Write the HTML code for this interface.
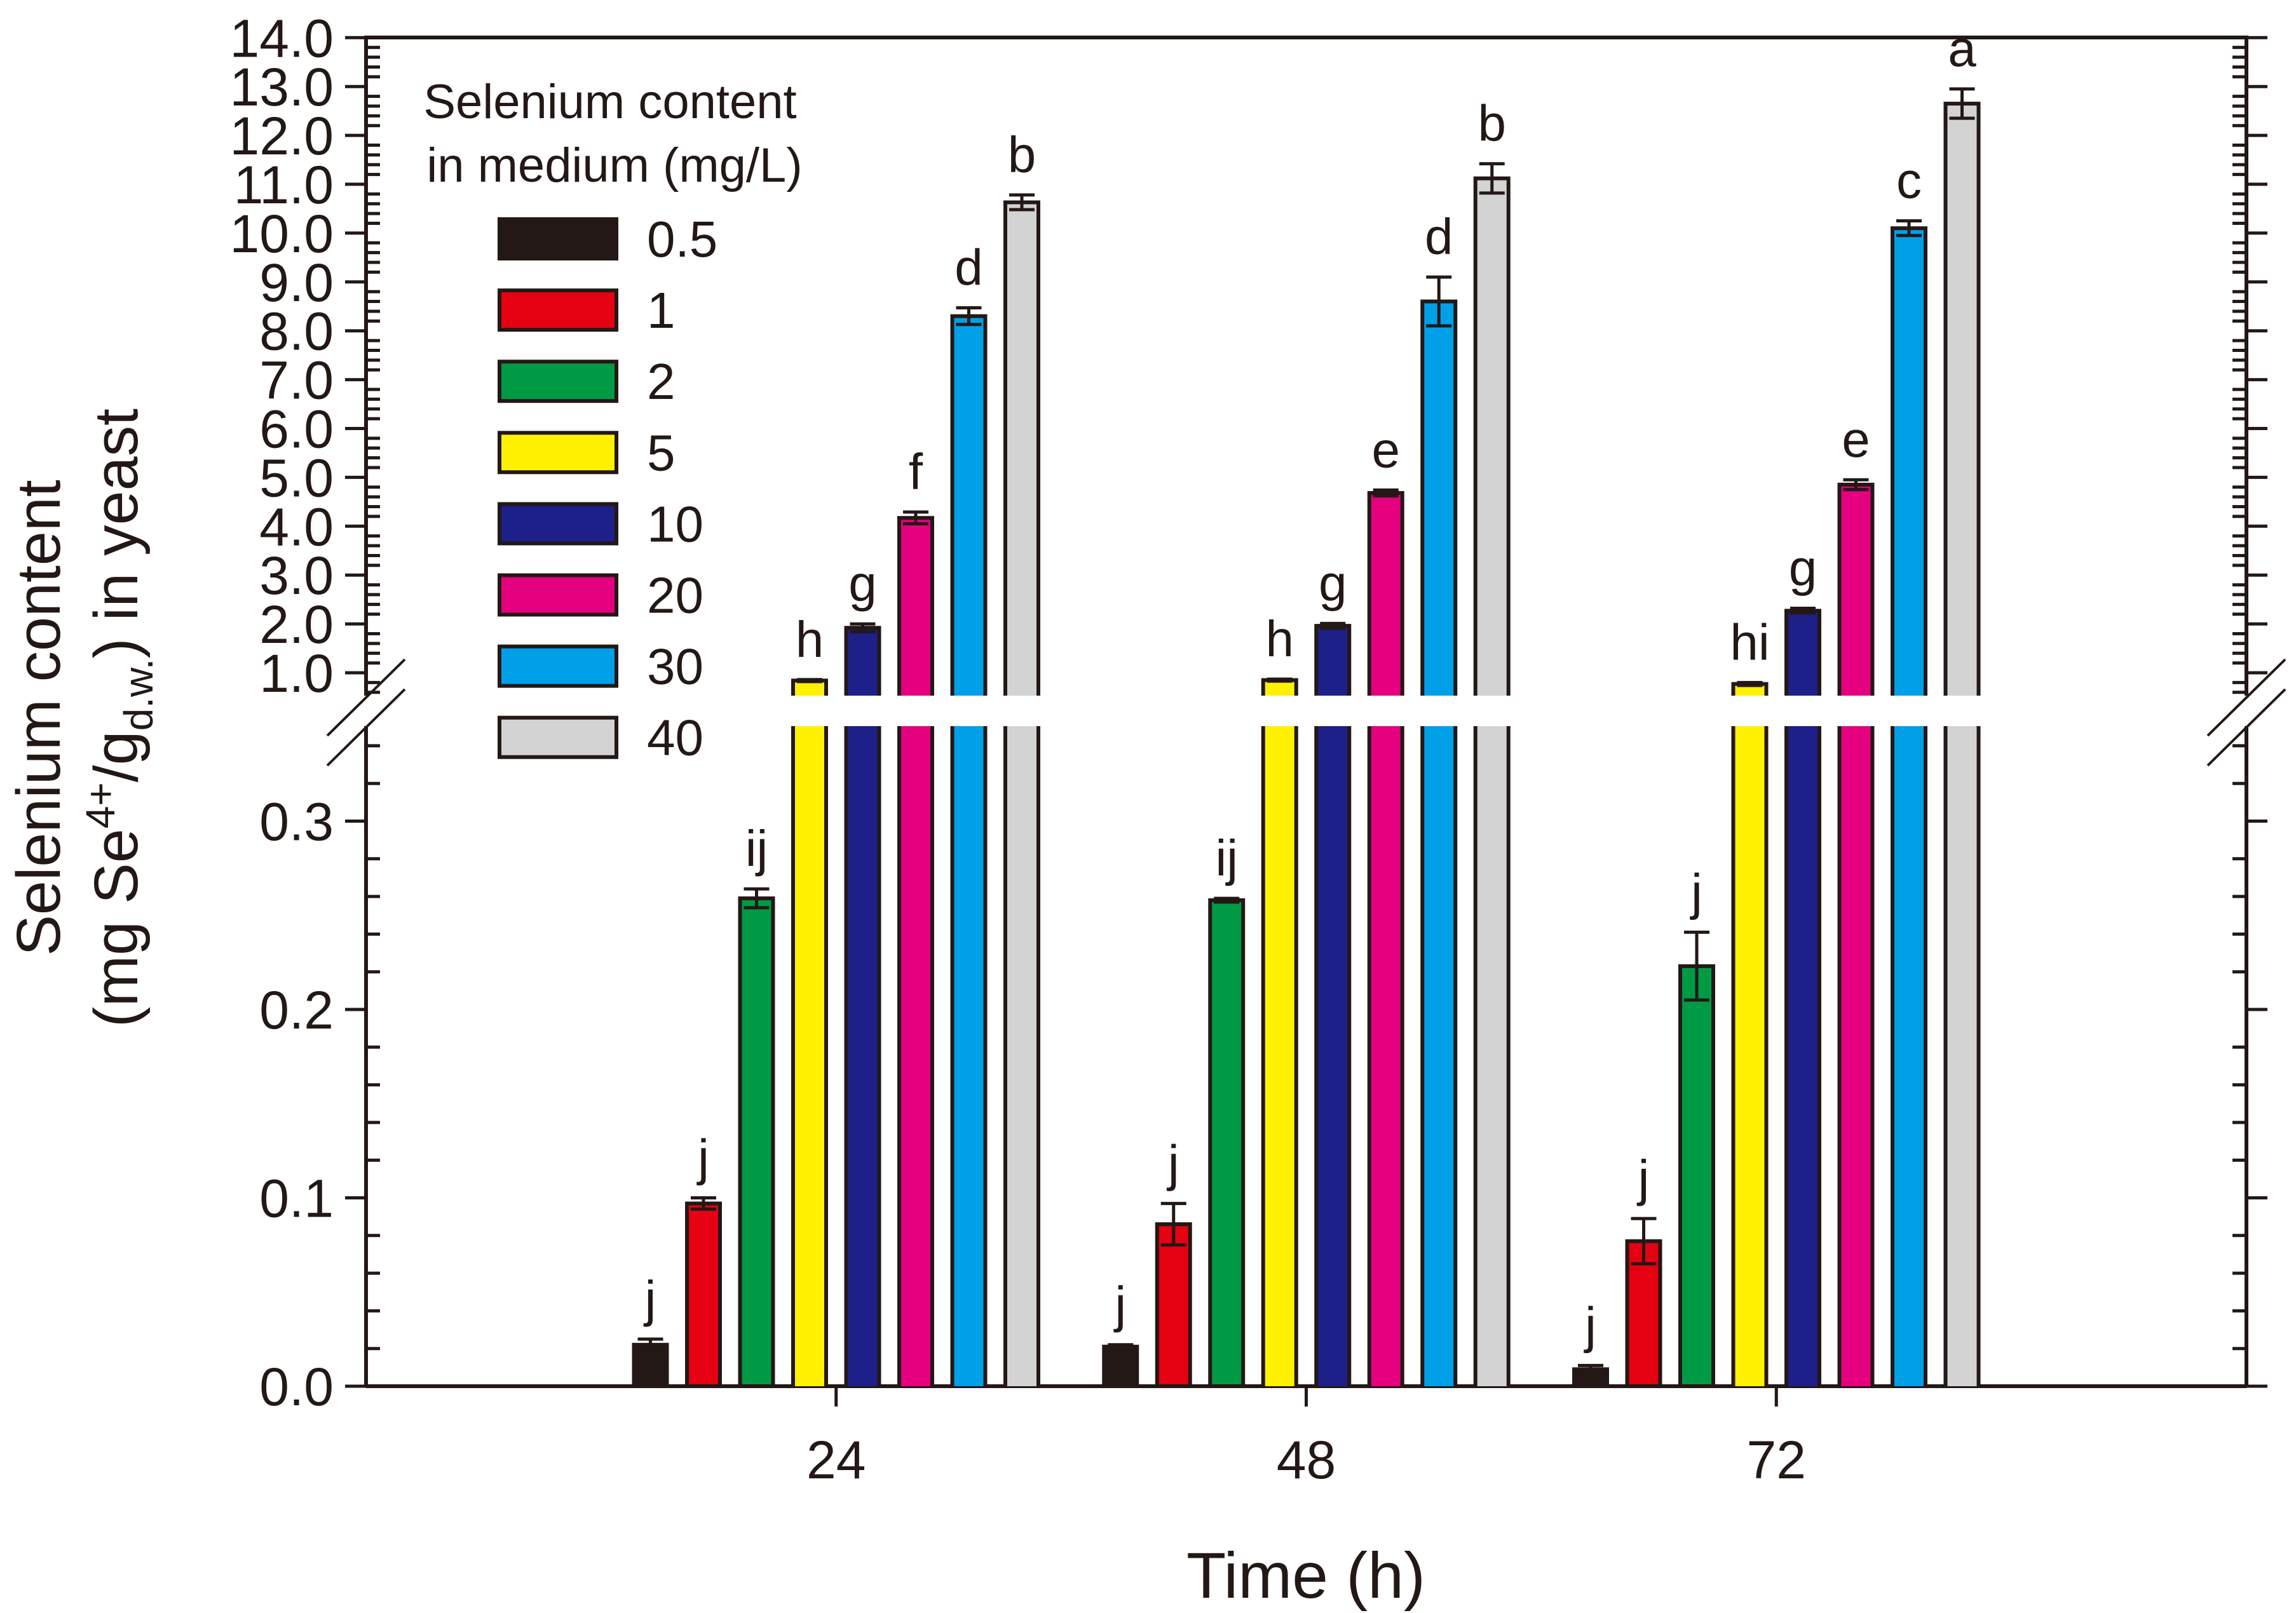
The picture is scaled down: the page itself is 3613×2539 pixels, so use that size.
<!DOCTYPE html>
<html><head><meta charset="utf-8"><style>
html,body{margin:0;padding:0;background:#fff;}
svg{display:block;font-family:"Liberation Sans",Arial,sans-serif;}
</style></head><body>
<svg id="chart" width="3613" height="2539" viewBox="0 0 3613 2539" xmlns="http://www.w3.org/2000/svg">
<g id="axes"></g>
<g id="bars"></g>
<g id="legend"></g>
<text x="2055" y="2515" font-size="102" text-anchor="middle" fill="#231815">Time (h)</text>
<g transform="translate(0,1130) rotate(-90)">
<text x="0" y="94" font-size="97" text-anchor="middle" fill="#231815">Selenium content</text>
<text x="0" y="216" font-size="97" text-anchor="middle" fill="#231815">(mg Se<tspan font-size="64" dy="-36">4+</tspan><tspan dy="36">/g</tspan><tspan font-size="64" dy="24">d.w.</tspan><tspan dy="-24">) in yeast</tspan></text>
</g>
</svg>
<script>
const times=[24,48,72];
const concentrations=["0.5","1","2","5","10","20","30","40"];
const colors=["#231815","#e50012","#009a44","#fff100","#1d2088","#e4007f","#00a0e9","#d3d3d3"];
const values24=[0.022,0.097,0.259,0.84,1.92,4.17,8.30,10.63];
const values48=[0.021,0.086,0.258,0.85,1.96,4.68,8.60,11.12];
const values72=[0.009,0.077,0.223,0.77,2.27,4.85,10.10,12.65];
const errors24=[0.003,0.003,0.005,0.02,0.08,0.12,0.17,0.15];
const errors48=[0.001,0.011,0.001,0.02,0.05,0.06,0.50,0.30];
const errors72=[0.002,0.012,0.018,0.03,0.05,0.10,0.15,0.30];
const letters24=["j","j","ij","h","g","f","d","b"];
const letters48=["j","j","ij","h","g","e","d","b"];
const letters72=["j","j","j","hi","g","e","c","a"];
const lowerTicks=["0.0","0.1","0.2","0.3"];
const upperTicks=["1.0","2.0","3.0","4.0","5.0","6.0","7.0","8.0","9.0","10.0","11.0","12.0","13.0","14.0"];

const NS="http://www.w3.org/2000/svg";
const X0=576,X1=3535,BASE=2182,TOP=59;
const LOW_TOP=1143,UP_BOT=1095;
const xs=t=>X0+(t/96)*(X1-X0);
const yLow=v=>BASE-v*2965;
const yUp=v=>1059-(v-1)*76.9;
const yVal=v=>v<=0.35?yLow(v):yUp(v);
const ink="#231815";
function mk(tag,attrs,parent){const e=document.createElementNS(NS,tag);for(const k in attrs)e.setAttribute(k,attrs[k]);parent.appendChild(e);return e;}
const axes=document.getElementById('axes');
let e;
e=mk('line',{x1:X0,y1:BASE,x2:X1,y2:BASE,stroke:ink,'stroke-width':6},axes);

e=mk('line',{x1:X0-3,y1:TOP,x2:X1+3,y2:TOP,stroke:ink,'stroke-width':6},axes);

for(const X of [X0,X1]){
 e=mk('line',{x1:X,y1:TOP,x2:X,y2:UP_BOT,stroke:ink,'stroke-width':6},axes);
 
 e=mk('line',{x1:X,y1:LOW_TOP,x2:X,y2:BASE,stroke:ink,'stroke-width':6},axes);
 
 const dir=X===X0?1:-1;
 for(let k=1;k<=17;k++){const v=k*0.02;if(k%5===0)continue;const y=yLow(v);
  e=mk('line',{x1:X,y1:y,x2:X+dir*22,y2:y,stroke:ink,'stroke-width':5},axes);
  }
 for(let k=3;k<70;k++){const v=k*0.2;if(k%5===0)continue;const y=yUp(v);
  e=mk('line',{x1:X,y1:y,x2:X+dir*22,y2:y,stroke:ink,'stroke-width':5},axes);
  }
 const majors=lowerTicks.map(s=>yLow(parseFloat(s))).concat(upperTicks.map(s=>yUp(parseFloat(s))));
 for(const y of majors){
  e=mk('line',{x1:X,y1:y,x2:X-dir*33,y2:y,stroke:ink,'stroke-width':5},axes);
  }
}
lowerTicks.forEach(s=>{e=mk('text',{x:525,y:yLow(parseFloat(s))+30,'font-size':84,'text-anchor':'end',fill:ink},axes);e.textContent=s;
 });
upperTicks.forEach(s=>{e=mk('text',{x:525,y:yUp(parseFloat(s))+30,'font-size':84,'text-anchor':'end',fill:ink},axes);e.textContent=s;
 });
for(const bx of [X0,X1]){
 const x1=bx-61,x2=bx+61;
 for(const off of [0,47]){
  e=mk('line',{x1:x1,y1:1158+off,x2:x2,y2:1038+off,stroke:ink,'stroke-width':4},axes);
  }
}
times.forEach(t=>{const x=xs(t);
 e=mk('line',{x1:x,y1:BASE,x2:x,y2:BASE+32,stroke:ink,'stroke-width':5},axes);
 
 e=mk('text',{x:x,y:2327,'font-size':84,'text-anchor':'middle',fill:ink},axes);e.textContent=String(t);
 });
const bars=document.getElementById('bars');
const allVals=[values24,values48,values72],allErr=[errors24,errors48,errors72],allLet=[letters24,letters48,letters72];
const pitch=83.5,bw=58;
times.forEach((t,gi)=>{
 concentrations.forEach((c,i)=>{
  const v=allVals[gi][i],er=allErr[gi][i];
  const cx=xs(t)+(i-3.5)*pitch,l=cx-bw/2+3,r=cx+bw/2-3;
  const g=mk('g',{},bars);
  
  
  const yt=yVal(v);
  if(v<=0.35){
   mk('rect',{x:l,y:yt,width:r-l,height:BASE-yt,fill:colors[i],stroke:ink,'stroke-width':6},g);
  }else{
   mk('rect',{x:l,y:LOW_TOP,width:r-l,height:BASE-LOW_TOP,fill:colors[i]},g);
   mk('path',{d:`M${l},${LOW_TOP}V${BASE}M${r},${LOW_TOP}V${BASE}`,stroke:ink,'stroke-width':6,fill:'none'},g);
   mk('rect',{x:l,y:yt,width:r-l,height:UP_BOT-yt,fill:colors[i]},g);
   mk('path',{d:`M${l},${UP_BOT}V${yt}H${r}V${UP_BOT}`,stroke:ink,'stroke-width':6,fill:'none'},g);
  }
  const yh=yVal(v+er),yl=yVal(Math.max(v-er,0));
  const eb=mk('path',{d:`M${cx},${yh}V${yl}M${cx-20},${yh}H${cx+20}M${cx-20},${yl}H${cx+20}`,stroke:ink,'stroke-width':5,fill:'none'},bars);
  
  
  const lt=mk('text',{x:cx,y:Math.min(yh,yt)-36,'font-size':80,'text-anchor':'middle',fill:ink},bars);
  lt.textContent=allLet[gi][i];
  
  
 });
});
const lg=document.getElementById('legend');
e=mk('text',{x:960,y:186,'font-size':76,'text-anchor':'middle',fill:ink},lg);e.textContent='Selenium content';

e=mk('text',{x:967,y:286,'font-size':76,'text-anchor':'middle',fill:ink},lg);e.textContent='in medium (mg/L)';

concentrations.forEach((c,i)=>{
 const yc=376+i*112.1;
 const sw=mk('rect',{x:786,y:yc-31,width:184,height:62,fill:colors[i],stroke:ink,'stroke-width':6},lg);
 
 
 const tx=mk('text',{x:1018,y:yc+28,'font-size':80,fill:ink},lg);
 tx.textContent=c;
 
 
});
</script>
</body></html>
